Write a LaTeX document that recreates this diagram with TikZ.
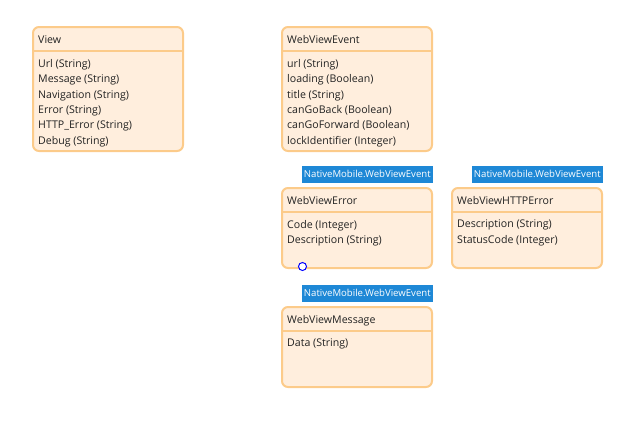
\documentclass[tikz,border=0pt]{standalone}
\usepackage{fontspec}
\setmainfont{Open Sans}
\definecolor{clsfill}{HTML}{FFEEDD}
\definecolor{clsdraw}{HTML}{FCCB8A}
\definecolor{tagblue}{HTML}{1E88D6}
\definecolor{txt}{HTML}{222222}
\begin{document}
\begin{tikzpicture}[x=1pt,y=-1pt,
  cls/.style={draw=clsdraw, fill=clsfill, line width=2pt, rounded corners=6pt, minimum width=150pt, anchor=north west, inner sep=0pt},
  divider/.style={draw=clsdraw, line width=2pt},
  hdr/.style={anchor=base west, inner sep=0pt, font=\fontsize{10.6}{15.4}\selectfont, text=txt},
  attrs/.style={anchor=north west, inner sep=0pt, font=\fontsize{10.6}{15.4}\selectfont, text=txt, align=left},
  tag/.style={fill=tagblue, text=white, inner sep=0pt, minimum width=131pt, minimum height=17pt, anchor=south east, font=\fontsize{9.6}{12}\selectfont},
  port/.style={circle, draw=blue, fill=white, line width=1pt, minimum size=8pt, inner sep=0pt}
]
\useasboundingbox (0,0) rectangle (625,421);

% View
\node[cls, minimum height=124pt] (view) at (32,26) {};
\draw[divider] ([yshift=-25pt]view.north west) -- ([yshift=-25pt]view.north east);
\node[hdr] (viewT) at ([xshift=6pt,yshift=-17.5pt]view.north west) {View};
\node[attrs] (viewA) at ([xshift=6pt,yshift=-33pt]view.north west) {Url (String)\\Message (String)\\Navigation (String)\\Error (String)\\HTTP\_Error (String)\\Debug (String)};

% WebViewEvent
\node[cls, minimum height=124pt] (wve) at (281,26) {};
\draw[divider] ([yshift=-25pt]wve.north west) -- ([yshift=-25pt]wve.north east);
\node[hdr] (wveT) at ([xshift=6pt,yshift=-17.5pt]wve.north west) {WebViewEvent};
\node[attrs] (wveA) at ([xshift=6pt,yshift=-33pt]wve.north west) {url (String)\\loading (Boolean)\\title (String)\\canGoBack (Boolean)\\canGoForward (Boolean)\\lockIdentifier (Integer)};

% WebViewError
\node[cls, minimum height=80pt] (err) at (281,187) {};
\draw[divider] ([yshift=-25pt]err.north west) -- ([yshift=-25pt]err.north east);
\node[hdr] (errT) at ([xshift=6pt,yshift=-17.5pt]err.north west) {WebViewError};
\node[attrs] (errA) at ([xshift=6pt,yshift=-33pt]err.north west) {Code (Integer)\\Description (String)};
\node[tag] (errTag) at ([yshift=4pt]err.north east) {NativeMobile.WebViewEvent};
\node[port] (errPort) at (302.5,266.5) {};

% WebViewHTTPError
\node[cls, minimum height=80pt] (http) at (451,187) {};
\draw[divider] ([yshift=-25pt]http.north west) -- ([yshift=-25pt]http.north east);
\node[hdr] (httpT) at ([xshift=6pt,yshift=-17.5pt]http.north west) {WebViewHTTPError};
\node[attrs] (httpA) at ([xshift=6pt,yshift=-33pt]http.north west) {Description (String)\\StatusCode (Integer)};
\node[tag] (httpTag) at ([yshift=4pt]http.north east) {NativeMobile.WebViewEvent};

% WebViewMessage
\node[cls, minimum height=80pt] (msg) at (281,306) {};
\draw[divider] ([yshift=-25pt]msg.north west) -- ([yshift=-25pt]msg.north east);
\node[hdr] (msgT) at ([xshift=6pt,yshift=-17.5pt]msg.north west) {WebViewMessage};
\node[attrs] (msgA) at ([xshift=6pt,yshift=-33pt]msg.north west) {Data (String)};
\node[tag] (msgTag) at ([yshift=4pt]msg.north east) {NativeMobile.WebViewEvent};
\end{tikzpicture}
\end{document}
